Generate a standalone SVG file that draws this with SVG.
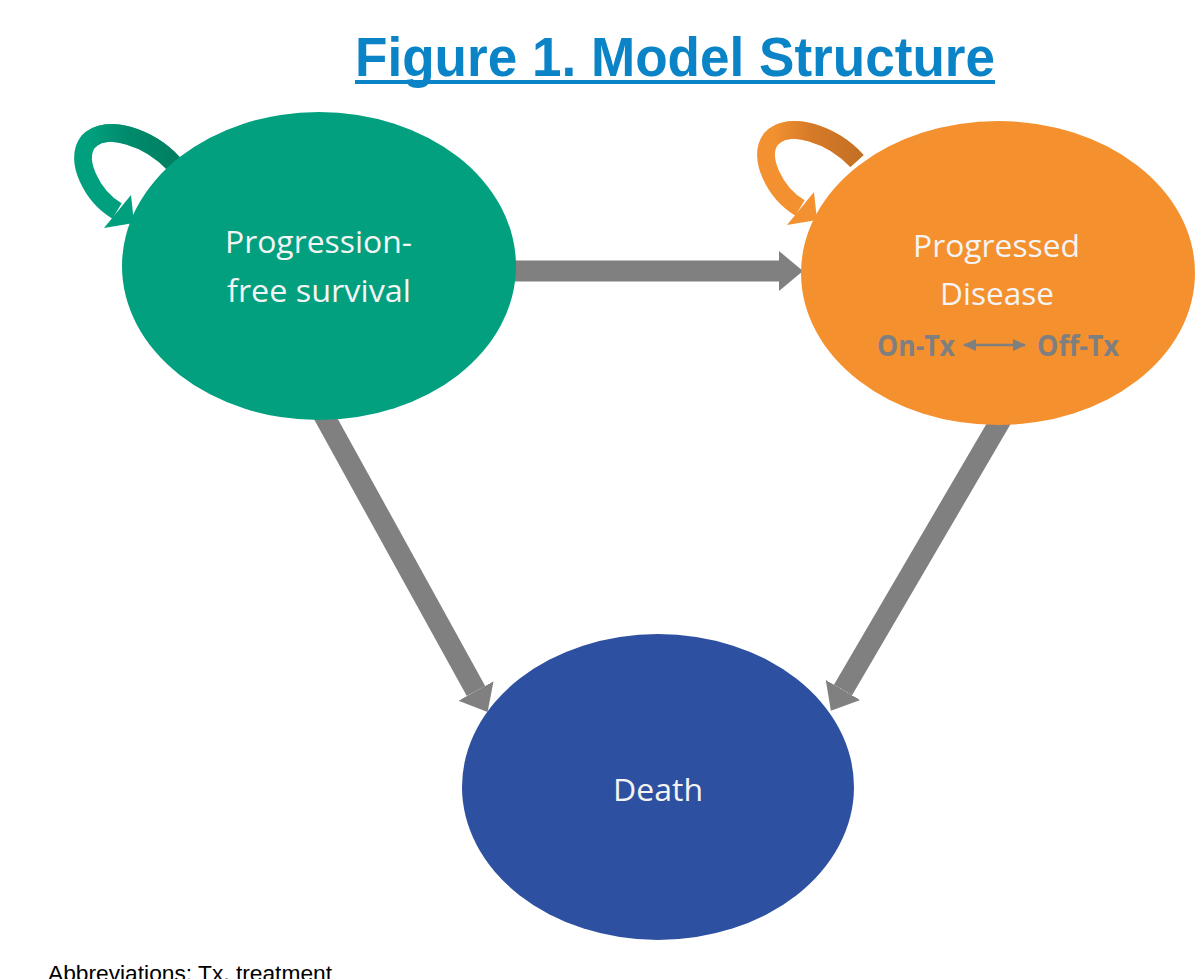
<svg xmlns="http://www.w3.org/2000/svg" width="1195" height="979" viewBox="0 0 1195 979">
  <defs>
    <style>
      .title { font-family: "Liberation Sans", Arial, sans-serif; font-weight: bold; font-size: 55px; fill: #0a84c6; }
      .label { font-family: "Open Sans", "Noto Sans", sans-serif; font-size: 31px; fill: #f4f4f4; }
      .sub { font-family: "Open Sans", "Noto Sans", sans-serif; font-weight: bold; font-size: 28px; fill: #7f7f7f; }
      .note { font-family: "Liberation Sans", Arial, sans-serif; font-size: 22.5px; fill: #000000; }
      .flow { stroke: #808080; stroke-width: 21; fill: none; }
      .loop { fill: none; stroke-width: 18; }
    </style>
    <marker id="head" markerUnits="userSpaceOnUse" markerWidth="26" markerHeight="42" refX="0" refY="20" orient="auto" viewBox="0 0 26 40">
      <path d="M0,0 L24,20 L0,40 z" fill="#808080"/>
    </marker>
    <marker id="small" markerUnits="userSpaceOnUse" markerWidth="14" markerHeight="14" refX="12" refY="7" orient="auto-start-reverse" viewBox="0 0 14 14">
      <path d="M0,1 L13,7 L0,13 z" fill="#7f7f7f"/>
    </marker>
    <linearGradient id="greenShade" gradientUnits="userSpaceOnUse" x1="90" y1="0" x2="176" y2="0">
      <stop offset="0" stop-color="#00a07e"/>
      <stop offset="0.45" stop-color="#008a6c"/>
      <stop offset="1" stop-color="#007f62"/>
    </linearGradient>
    <linearGradient id="orangeShade" gradientUnits="userSpaceOnUse" x1="90" y1="0" x2="176" y2="0">
      <stop offset="0" stop-color="#f39131"/>
      <stop offset="0.45" stop-color="#d57a28"/>
      <stop offset="1" stop-color="#c47024"/>
    </linearGradient>
  </defs>

  <rect x="0" y="0" width="1195" height="979" fill="#ffffff"/>

  <g id="title">
    <text class="title" x="355" y="76" textLength="640" lengthAdjust="spacingAndGlyphs">Figure 1. Model Structure</text>
    <rect x="355" y="80" width="640" height="4" fill="#0a84c6"/>
  </g>

  <g id="connectors">
    <!-- progression-free survival to progressed disease -->
    <line class="flow" x1="500" y1="271" x2="779" y2="271" marker-end="url(#head)"/>
    <!-- progression-free survival to death -->
    <line class="flow" x1="322" y1="412" x2="476" y2="691" marker-end="url(#head)"/>
    <!-- progressed disease to death -->
    <line class="flow" x1="1002" y1="418" x2="843" y2="690" marker-end="url(#head)"/>

    <!-- self transitions -->
    <g id="loop-pfs">
      <path class="loop" stroke="#00a07e" d="M174,164 C150,138 106,122 88,142 C74,160 92,196 117,211"/>
      <path class="loop" stroke="url(#greenShade)" d="M174,164 C150,138 106,122 88,142"/>
      <polygon points="104,228 131,195 134,223" fill="#00a07e"/>
    </g>
    <g id="loop-pd" transform="translate(683,-3)">
      <path class="loop" stroke="#f39131" d="M174,164 C150,138 106,122 88,142 C74,160 92,196 117,211"/>
      <path class="loop" stroke="url(#orangeShade)" d="M174,164 C150,138 106,122 88,142"/>
      <polygon points="104,228 131,195 134,223" fill="#f39131"/>
    </g>
  </g>

  <g id="node-pfs">
    <ellipse cx="319" cy="266" rx="197" ry="154" fill="#02a07e"/>
    <text class="label" x="225" y="253" textLength="187" lengthAdjust="spacingAndGlyphs">Progression-</text>
    <text class="label" x="227" y="302" textLength="184" lengthAdjust="spacingAndGlyphs">free survival</text>
  </g>

  <g id="node-pd">
    <ellipse cx="998" cy="273" rx="197" ry="152" fill="#f5902f"/>
    <text class="label" x="913" y="257" textLength="167" lengthAdjust="spacingAndGlyphs">Progressed</text>
    <text class="label" x="940" y="305" textLength="114" lengthAdjust="spacingAndGlyphs">Disease</text>
    <text class="sub" x="877" y="356" textLength="78" lengthAdjust="spacingAndGlyphs">On-Tx</text>
    <line x1="964" y1="345" x2="1025" y2="345" stroke="#7f7f7f" stroke-width="2.5" marker-start="url(#small)" marker-end="url(#small)"/>
    <text class="sub" x="1037" y="356" textLength="82" lengthAdjust="spacingAndGlyphs">Off-Tx</text>
  </g>

  <g id="node-death">
    <ellipse cx="658" cy="787" rx="196" ry="153" fill="#2d50a0"/>
    <text class="label" x="613" y="801" textLength="90" lengthAdjust="spacingAndGlyphs">Death</text>
  </g>

  <text class="note" x="48" y="981" textLength="284" lengthAdjust="spacingAndGlyphs">Abbreviations: Tx, treatment</text>
</svg>
